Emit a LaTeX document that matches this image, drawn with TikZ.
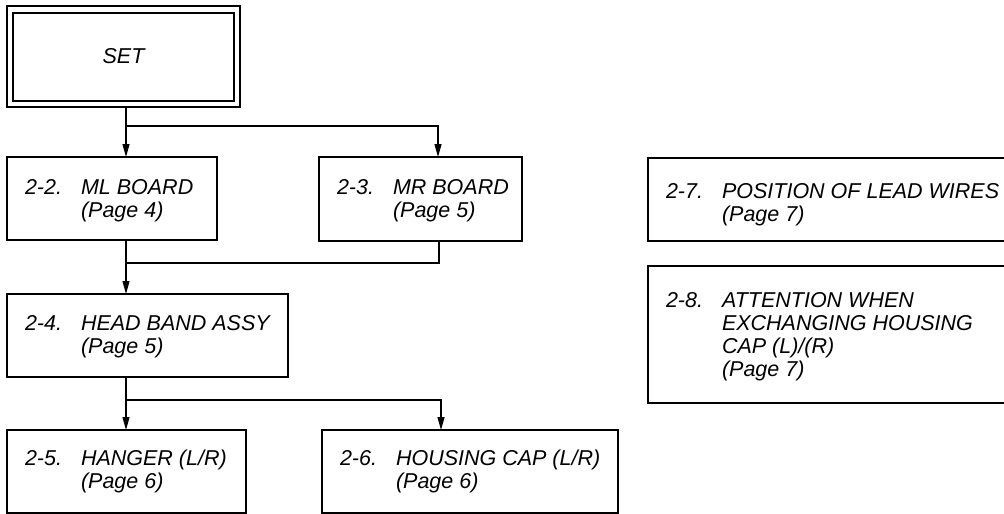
\documentclass[tikz,border=0pt]{standalone}
\usepackage{fontspec}
\setmainfont{Liberation Sans}
\usetikzlibrary{arrows.meta}
\tikzset{
  box/.style={draw, line width=1.2pt, inner sep=0pt, outer sep=0pt, anchor=north west},
  txt/.style={anchor=base west, inner sep=0pt, outer sep=0pt, font=\fontsize{21.5}{23}\selectfont\itshape},
  arr/.style={line width=1.2pt, -{Triangle[length=13pt,width=7pt]}},
  ln/.style={line width=1.2pt},
}
\begin{document}
\begin{tikzpicture}[x=1pt,y=-1pt]
\useasboundingbox (0,0) rectangle (1004,514);
% boxes
\node[box, minimum width=233pt, minimum height=101pt] (set) at (7,6) {};
\node[box, minimum width=221pt, minimum height=88pt] (setin) at (13,13) {};
\node[txt, anchor=center] (settxt) at (set.center) {SET};
\node[box, minimum width=210pt, minimum height=83pt] (ml) at (7,157) {};
\node[box, minimum width=203pt, minimum height=84pt] (mr) at (319,157) {};
\node[box, minimum width=281pt, minimum height=83pt] (hb) at (7,294) {};
\node[box, minimum width=239pt, minimum height=83pt] (hg) at (7,430) {};
\node[box, minimum width=296pt, minimum height=83pt] (hc) at (322,430) {};
\node[box, minimum width=380pt, minimum height=83pt] (lw) at (648,158) {};
\node[box, minimum width=380pt, minimum height=137pt] (at) at (648,266) {};
% texts
\node[txt] (mlA) at (25,194) {2-2.};
\node[txt] (mlB) at (81,194) {ML BOARD};
\node[txt] (mlC) at (81,217) {(Page 4)};
\node[txt] (mrA) at (337,194) {2-3.};
\node[txt] (mrB) at (393,194) {MR BOARD};
\node[txt] (mrC) at (393,217) {(Page 5)};
\node[txt] (hbA) at (25,330) {2-4.};
\node[txt] (hbB) at (81,330) {HEAD BAND ASSY};
\node[txt] (hbC) at (81,353) {(Page 5)};
\node[txt] (hgA) at (25,465) {2-5.};
\node[txt] (hgB) at (81,465) {HANGER (L/R)};
\node[txt] (hgC) at (81,488) {(Page 6)};
\node[txt] (hcA) at (340,465) {2-6.};
\node[txt] (hcB) at (396,465) {HOUSING CAP (L/R)};
\node[txt] (hcC) at (396,488) {(Page 6)};
\node[txt] (lwA) at (666,198) {2-7.};
\node[txt] (lwB) at (722,198) {POSITION OF LEAD WIRES};
\node[txt] (lwC) at (722,221) {(Page 7)};
\node[txt] (atA) at (666,307) {2-8.};
\node[txt] (atB) at (722,307) {ATTENTION WHEN};
\node[txt] (atC) at (722,330) {EXCHANGING HOUSING};
\node[txt] (atD) at (722,353) {CAP (L)/(R)};
\node[txt] (atE) at (722,376) {(Page 7)};
% connectors
\coordinate (cx) at (126,0);
\coordinate (j1) at (126,126);
\coordinate (j1r) at (438,126);
\coordinate (m1) at (439,263);
\coordinate (b2) at (441,400);
\draw[arr] (set.south -| cx) -- (ml.north -| cx);
\draw[arr] (j1) -| (mr.north -| j1r);
\draw[ln] (mr.south -| m1) |- (cx |- m1);
\draw[arr] (ml.south -| cx) -- (hb.north -| cx);
\draw[arr] (hb.south -| cx) -- (hg.north -| cx);
\draw[arr] (cx |- b2) -| (hc.north -| b2);
\end{tikzpicture}
\end{document}
